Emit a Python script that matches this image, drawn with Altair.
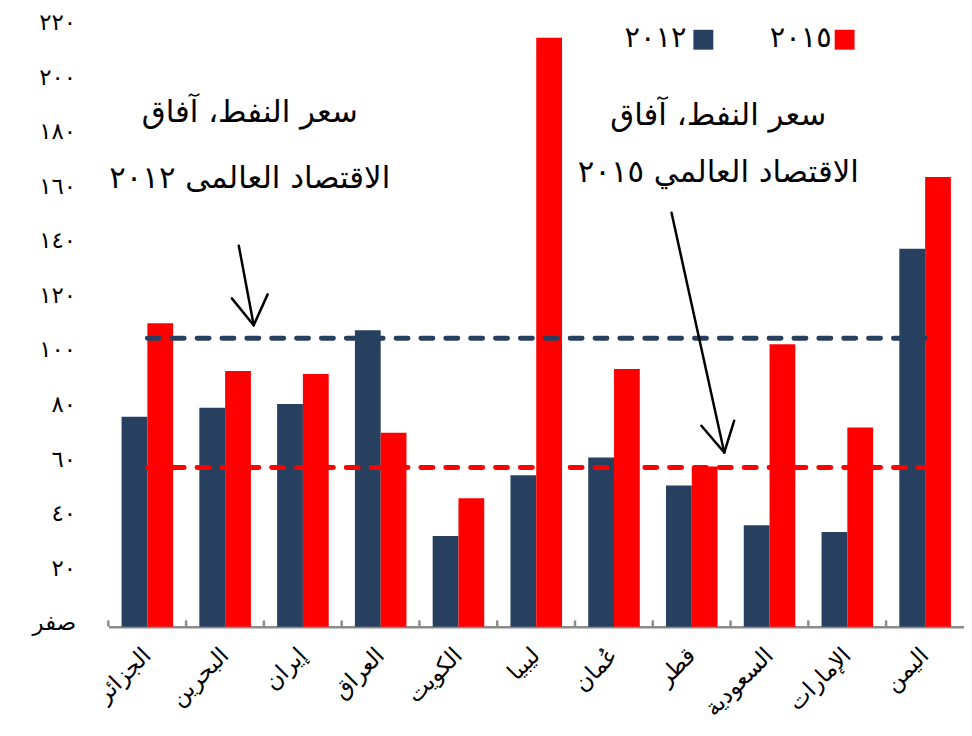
import altair as alt
import pandas as pd

countries = ["الجزائر", "البحرين", "إيران", "العراق", "الكويت", "ليبيا",
             "عُمان", "قطر", "السعودية", "الإمارات", "اليمن"]
years = ["2012", "2015"]
year_labels = ["٢٠١٢", "٢٠١٥"]
v2012 = [77.0, 80.3, 81.7, 108.7, 33.2, 55.5, 62.0, 51.8, 37.2, 34.7, 138.6]
v2015 = [111.3, 93.8, 92.7, 71.1, 47.1, 216.0, 94.5, 58.7, 103.6, 73.0, 164.9]
oil_2012 = 105.8
oil_2015 = 58.4
ytick_values = [0, 20, 40, 60, 80, 100, 120, 140, 160, 180, 200, 220]
ytick_labels = ["صفر", "٢٠", "٤٠", "٦٠", "٨٠", "١٠٠", "١٢٠", "١٤٠", "١٦٠", "١٨٠", "٢٠٠", "٢٢٠"]
note_2012 = ["سعر النفط، آفاق", "الاقتصاد العالمى ٢٠١٢"]
note_2015 = ["سعر النفط، آفاق", "الاقتصاد العالمي ٢٠١٥"]

NAVY = "#27405f"
RED = "#ff0000"
FONT = "DejaVu Sans"
W, H = 860, 603

rows = []
for c, a, b in zip(countries, v2012, v2015):
    rows.append({"country": c, "year": years[0], "value": a})
    rows.append({"country": c, "year": years[1], "value": b})
df = pd.DataFrame(rows)
cat_df = pd.DataFrame({"country": countries})

label_expr = " : ".join(
    [f"datum.value == {v} ? '{l}'" for v, l in zip(ytick_values, ytick_labels)]
) + " : ''"

xscale = alt.Scale(domain=countries, paddingInner=0.337, paddingOuter=0.1685)
yscale = alt.Scale(domain=[0, 220], nice=False)

bars = alt.Chart(df).mark_bar().encode(
    x=alt.X("country:N", scale=xscale, sort=countries,
            axis=alt.Axis(title=None, labelAngle=315, labelAlign="right",
                          labelBaseline="middle", labelFont=FONT, labelFontSize=23,
                          labelColor="black", labelPadding=25, ticks=False,
                          domainColor="#8c8c8c", domainWidth=2.5)),
    xOffset=alt.XOffset("year:N", scale=alt.Scale(domain=years, paddingInner=0, paddingOuter=0)),
    y=alt.Y("value:Q", scale=yscale,
            axis=alt.Axis(title=None, values=ytick_values, labelExpr=label_expr,
                          grid=False, domain=False, ticks=False, labelFont=FONT,
                          labelFontSize=23, labelOffset=-4,
                          labelColor="black", labelPadding=33)),
    color=alt.Color("year:N", scale=alt.Scale(domain=years, range=[NAVY, RED]), legend=None),
)

cat_ticks = alt.Chart(cat_df).mark_rule(color="#8c8c8c", strokeWidth=2.5, xOffset=-13.3).encode(
    x=alt.X("country:N", scale=xscale, sort=countries, bandPosition=0),
    y=alt.datum(0),
    y2=alt.datum(2.3),
)

def ref_line(val, color):
    return alt.Chart(pd.DataFrame({"v": [val]})).mark_rule(
        color=color, strokeWidth=5, strokeDash=[12, 13], strokeCap="round"
    ).encode(
        x=alt.datum(countries[0]),
        x2=alt.datum(countries[-1]),
        y=alt.Y("v:Q", scale=yscale),
    )

line12 = ref_line(oil_2012, NAVY)
line15 = ref_line(oil_2015, RED)

def text_at(txt, x, y, size=31, align="center", weight="normal"):
    return alt.Chart(pd.DataFrame({"t": [txt]})).mark_text(
        font=FONT, fontSize=size, color="black", align=align, baseline="middle",
        fontWeight=weight
    ).encode(text="t:N", x=alt.value(x), y=alt.value(y))

def seg(x1, y1, x2, y2):
    return alt.Chart(pd.DataFrame({"a": [0]})).mark_rule(
        color="black", strokeWidth=2.5, strokeCap="round"
    ).encode(x=alt.value(x1), y=alt.value(y1), x2=alt.value(x2), y2=alt.value(y2))

ox, oy = 109, 25
annots = [
    text_at(note_2012[0], 251 - ox, 112 - oy),
    text_at(note_2012[1], 251 - ox, 178 - oy),
    text_at(note_2015[0], 722 - ox, 115 - oy),
    text_at(note_2015[1], 722 - ox, 172 - oy),
    seg(240 - ox, 245 - oy, 255 - ox, 325 - oy),
    seg(233 - ox, 298 - oy, 255 - ox, 325 - oy),
    seg(269 - ox, 294 - oy, 255 - ox, 325 - oy),
    seg(675 - ox, 212 - oy, 728 - ox, 453 - oy),
    seg(705 - ox, 426 - oy, 728 - ox, 453 - oy),
    seg(738 - ox, 421 - oy, 728 - ox, 453 - oy),
]

def legend_item(label, color, sq_x, txt_right):
    sq = alt.Chart(pd.DataFrame({"a": [0]})).mark_square(
        color=color, size=400, opacity=1, filled=True
    ).encode(x=alt.value(sq_x), y=alt.value(38 - oy))
    tx = text_at(label, txt_right, 36 - oy, size=29, align="right")
    return [sq, tx]

legend = legend_item(year_labels[0], NAVY, 707 - ox, 690 - ox) + \
         legend_item(year_labels[1], RED, 849 - ox, 836 - ox)

chart = alt.layer(bars, line12, line15, cat_ticks, *annots, *legend).properties(
    width=W, height=H,
    autosize=alt.AutoSizeParams(type="none"),
    padding={"left": 101, "top": 17, "right": 0, "bottom": 100},
).configure_view(stroke=None)

chart.save("out.html", embed_options={"renderer": "svg", "actions": False})
